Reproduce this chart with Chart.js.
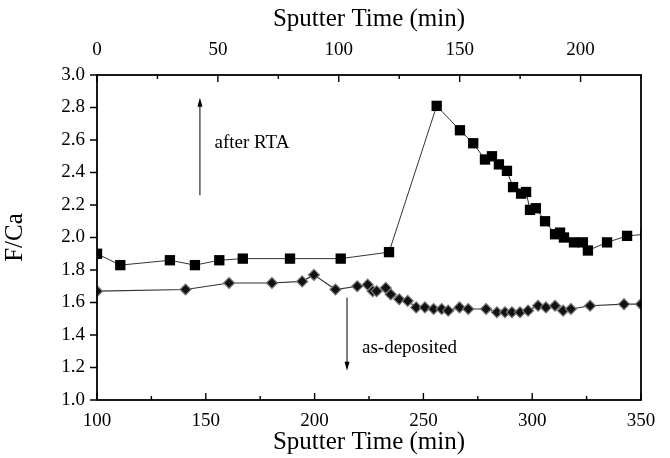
<!DOCTYPE html>
<html>
<head>
<meta charset="utf-8">
<script src="https://cdn.jsdelivr.net/npm/chart.js@4/dist/chart.umd.min.js"></script>
<style>
  html, body { margin: 0; padding: 0; background: #fff; }
</style>
</head>
<body>
<canvas id="chart" width="670" height="458"></canvas>
<script>
// after RTA (squares), bottom axis time in min
const rtaTimes = [100, 110.7, 133.5, 145, 156.2, 167, 188.7, 212, 234.2, 256.1, 266.8, 272.9,
  278.3, 281.5, 284.7, 288.4, 291.2, 294.9, 297.2, 299, 301.7, 305.9, 310.5, 312.8, 314.6,
  319.2, 323.3, 325.6, 334.4, 343.6, 352];
const rtaRatios = [1.90, 1.83, 1.86, 1.83, 1.86, 1.87, 1.87, 1.87, 1.91, 2.81, 2.66, 2.58,
  2.48, 2.50, 2.45, 2.41, 2.31, 2.27, 2.28, 2.17, 2.18, 2.10, 2.02, 2.03, 2.00,
  1.97, 1.97, 1.92, 1.97, 2.01, 2.02];

// as-deposited (diamonds)
const depTimes = [100, 140.7, 160.7, 180.4, 194.3, 199.7, 209.6, 219.6, 224.4, 226.7, 228.5,
  232.7, 235, 238.9, 242.8, 246.7, 250.7, 254.7, 258.4, 261.4, 266.6, 270.6, 278.8,
  283.8, 287.5, 290.7, 294.4, 298.1, 302.7, 306.3, 310.5, 314.2, 317.8, 326.6, 342.2, 350];
const depRatios = [1.67, 1.68, 1.72, 1.72, 1.73, 1.77, 1.68, 1.70, 1.71, 1.67, 1.67,
  1.69, 1.65, 1.62, 1.61, 1.57, 1.57, 1.56, 1.56, 1.55, 1.57, 1.56, 1.56,
  1.54, 1.54, 1.54, 1.54, 1.55, 1.58, 1.57, 1.58, 1.55, 1.56, 1.58, 1.59, 1.59];

// annotation positions (data units)
const upArrow = { x: 147.3, from: 2.26, to: 2.86, label: 'after RTA', lx: 154, ly: 2.58 };
const downArrow = { x: 214.9, from: 1.63, to: 1.18, label: 'as-deposited', lx: 221.8, ly: 1.32 };

const serif = '"Liberation Serif", "DejaVu Serif", serif';

function pts(xs, ys) {
  return xs.map((x, i) => ({ x: x, y: ys[i] }));
}

// frame, inward ticks and the arrows
const framePlugin = {
  id: 'framePlugin',
  afterDraw(chart) {
    const ctx = chart.ctx;
    const a = chart.chartArea;
    const sx = chart.scales.x, sx2 = chart.scales.x2, sy = chart.scales.y;
    ctx.save();
    ctx.strokeStyle = '#000';
    ctx.lineWidth = 1.8;
    ctx.strokeRect(a.left, a.top, a.right - a.left, a.bottom - a.top);

    ctx.lineWidth = 1.4;
    ctx.beginPath();
    sx.ticks.forEach(t => {
      const px = sx.getPixelForValue(t.value);
      const len = t.value % 50 === 0 ? 7 : 4;
      ctx.moveTo(px, a.bottom); ctx.lineTo(px, a.bottom - len);
    });
    sx2.ticks.forEach(t => {
      const px = sx2.getPixelForValue(t.value);
      const len = t.value % 50 === 0 ? 7 : 4;
      ctx.moveTo(px, a.top); ctx.lineTo(px, a.top + len);
    });
    sy.ticks.forEach(t => {
      const py = sy.getPixelForValue(t.value);
      const len = Math.round(t.value * 10) % 2 === 0 ? 7 : 4;
      ctx.moveTo(a.left, py); ctx.lineTo(a.left - len, py);
    });
    ctx.stroke();

    // arrows
    [upArrow, downArrow].forEach(ar => {
      const px = sx.getPixelForValue(ar.x);
      const y1 = sy.getPixelForValue(ar.from);
      const y2 = sy.getPixelForValue(ar.to);
      const dir = y2 < y1 ? 1 : -1;
      ctx.lineWidth = 1;
      ctx.beginPath();
      ctx.moveTo(px, y1); ctx.lineTo(px, y2 + dir * 6);
      ctx.stroke();
      ctx.beginPath();
      ctx.moveTo(px, y2);
      ctx.lineTo(px - 2.5, y2 + dir * 9);
      ctx.lineTo(px + 2.5, y2 + dir * 9);
      ctx.closePath();
      ctx.fillStyle = '#000';
      ctx.fill();

      ctx.font = '19px ' + serif;
      ctx.textAlign = 'left';
      ctx.textBaseline = 'middle';
      ctx.fillText(ar.label, sx.getPixelForValue(ar.lx), sy.getPixelForValue(ar.ly));
    });
    ctx.restore();
  }
};

const ctx = document.getElementById('chart').getContext('2d');
new Chart(ctx, {
  type: 'scatter',
  data: {
    datasets: [
      {
        label: 'after RTA',
        data: pts(rtaTimes, rtaRatios),
        showLine: true,
        borderColor: '#333',
        borderWidth: 1,
        pointStyle: 'rect',
        pointRadius: 7.3,
        pointBackgroundColor: '#000',
        pointBorderColor: '#000',
        pointBorderWidth: 0
      },
      {
        label: 'as-deposited',
        data: pts(depTimes, depRatios),
        showLine: true,
        borderColor: '#333',
        borderWidth: 1.2,
        pointStyle: 'rectRot',
        pointRadius: 5.5,
        pointBackgroundColor: '#111',
        pointBorderColor: '#777',
        pointBorderWidth: 1.2
      }
    ]
  },
  options: {
    responsive: false,
    animation: false,
    layout: { padding: { left: 0, right: 29, top: 0, bottom: 0 } },
    plugins: {
      legend: { display: false },
      tooltip: { enabled: false }
    },
    scales: {
      x: {
        type: 'linear',
        position: 'bottom',
        min: 100,
        max: 350,
        grid: { display: false, drawTicks: false },
        border: { display: false },
        ticks: {
          stepSize: 25,
          padding: 10,
          color: '#000',
          font: { family: serif, size: 19 },
          maxRotation: 0,
          callback: v => (v % 50 === 0 ? v : '')
        },
        title: {
          display: true,
          text: 'Sputter Time (min)',
          color: '#000',
          font: { family: serif, size: 25 },
          padding: { top: 0, bottom: 1 }
        },
        afterFit: s => { s.height = 58; }
      },
      x2: {
        type: 'linear',
        position: 'top',
        min: 0,
        max: 225,
        grid: { display: false, drawTicks: false },
        border: { display: false },
        ticks: {
          stepSize: 25,
          padding: 14,
          color: '#000',
          font: { family: serif, size: 19 },
          maxRotation: 0,
          callback: v => (v % 50 === 0 ? v : '')
        },
        title: {
          display: true,
          text: 'Sputter Time (min)',
          color: '#000',
          font: { family: serif, size: 25 },
          padding: { top: 4, bottom: 0 }
        },
        afterFit: s => { s.height = 75; }
      },
      y: {
        type: 'linear',
        min: 1.0,
        max: 3.0,
        grid: { display: false, drawTicks: false },
        border: { display: false },
        ticks: {
          stepSize: 0.1,
          padding: 12,
          color: '#000',
          font: { family: serif, size: 19 },
          callback: v => (Math.round(v * 10) % 2 === 0 ? v.toFixed(1) : '')
        },
        title: {
          display: true,
          text: 'F/Ca',
          color: '#000',
          font: { family: serif, size: 25 },
          padding: { top: 0, bottom: 0 }
        },
        afterFit: s => { s.width = 97; }
      }
    }
  },
  plugins: [framePlugin]
});
</script>
</body>
</html>
